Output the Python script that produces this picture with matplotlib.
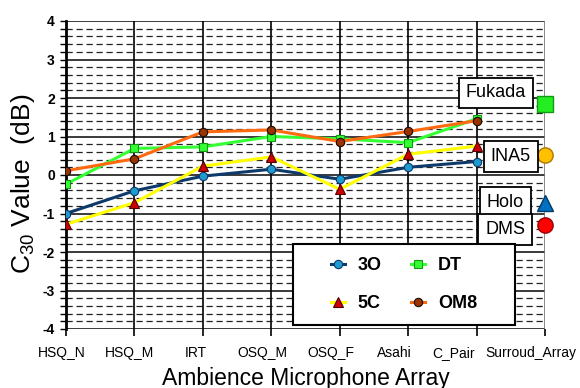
import matplotlib.pyplot as plt
from matplotlib.patches import Rectangle

plt.rcParams['font.family'] = ['Liberation Sans', 'DejaVu Sans']
plt.rcParams['mathtext.default'] = 'regular'

# -----------------------------------------------------------------------------
# data

arrays = ['HSQ_N', 'HSQ_M', 'IRT', 'OSQ_M', 'OSQ_F', 'Asahi', 'C_Pair',
          'Surroud_Array']

c30_3o = [-1.00, -0.41, -0.03, 0.15, -0.11, 0.20, 0.35]
c30_5c = [-1.28, -0.72, 0.23, 0.47, -0.37, 0.54, 0.75]
c30_dt = [-0.24, 0.69, 0.73, 1.00, 0.94, 0.84, 1.46]
c30_om8 = [0.11, 0.42, 1.12, 1.17, 0.87, 1.13, 1.41]

surround_names = ['Fukada', 'INA5', 'Holo', 'DMS']
surround_values = [1.84, 0.52, -0.72, -1.30]

# -----------------------------------------------------------------------------

fig = plt.figure(figsize=(5.8, 3.88), dpi=100)
ax = fig.add_axes([66 / 580, 1 - 329 / 388, 479 / 580, 308 / 388])

x = list(range(len(c30_3o)))

# grid first so the lines sit on top
for v in range(-4, 5):
    ax.axhline(v, color='#3a3a3a', lw=1.4, zorder=1)
    if v < 4:
        for k in range(1, 5):
            ax.axhline(v + k * 0.2, color='#222222', lw=0.9,
                       ls=(0, (5, 3)), zorder=1)
for i in range(1, len(arrays)):
    ax.axvline(i, color='black' if i < 7 else '#777777', lw=1.2, zorder=1.5)

ax.plot(x, c30_3o, color='#0e3a6b', lw=2.2, marker='o', ms=6,
        mfc='#1d9ad0', mec='#0e3a6b', mew=0.8, label='3O', zorder=3)
ax.plot(x, c30_dt, color='#33ff33', lw=2.2, marker='s', ms=6,
        mfc='#33ff33', mec='#119911', mew=0.8, label='DT', zorder=3)
ax.plot(x, c30_5c, color='#ffff00', lw=2.2, marker='^', ms=7,
        mfc='#cc0000', mec='#550000', mew=0.8, label='5C', zorder=3)
ax.plot(x, c30_om8, color='#ff6a10', lw=2.2, marker='o', ms=6,
        mfc='#993300', mec='#1a0a00', mew=0.8, label='OM8', zorder=3)

# surround arrays sit on the last category
xs = len(arrays) - 1
marker_styles = [('s', '#22ee22', '#119911', 11),
                 ('o', '#ffc000', '#aa7700', 11),
                 ('^', '#0070c0', '#003a66', 11),
                 ('o', '#ff0000', '#990000', 11)]
label_pos = [(6.28, 2.13), (6.50, 0.48), (6.42, -0.71), (6.42, -1.41)]
for name, val, (mk, fc, ec, ms), (lx, ly) in zip(
        surround_names, surround_values, marker_styles, label_pos):
    ax.plot([xs], [val], marker=mk, ms=ms, mfc=fc, mec=ec, mew=1,
            ls='none', clip_on=False, zorder=4)
    ax.text(lx, ly, name, ha='center', va='center', fontsize=13, zorder=5,
            bbox=dict(boxstyle='square,pad=0.38', fc='white', ec='black',
                      lw=1.3))

# legend box
ax.add_patch(Rectangle((0.474, 0.013), 0.463, 0.263, transform=ax.transAxes,
                       fc='white', ec='black', lw=1.5, zorder=6))
handles, labels = ax.get_legend_handles_labels()
order = [0, 2, 1, 3]
leg = ax.legend([handles[i] for i in order], [labels[i] for i in order],
                ncol=2, loc='center', bbox_to_anchor=(0.7055, 0.1445),
                frameon=False, handlelength=0.8, handletextpad=0.7,
                columnspacing=1.6, labelspacing=1.15,
                prop={'weight': 'bold', 'size': 13})
leg.set_zorder(7)

ax.set_xlim(0, len(arrays) - 1)
ax.set_ylim(-4, 4)
ax.set_xticks(range(len(arrays)))
ax.set_xticklabels([])
# the category labels sit a little left of their ticks, as in the original
shift_px = [-4, -5, -7, -9, -9, -14, -23, -14]
for i, (name, dx) in enumerate(zip(arrays, shift_px)):
    ax.annotate(name, (i, 0), xycoords=('data', 'axes fraction'),
                xytext=(dx, -17), textcoords='offset pixels',
                ha='center', va='top', fontsize=10, annotation_clip=False)
ax.set_yticks(range(-4, 5))
ax.set_yticklabels([str(v) for v in range(-4, 5)], fontsize=10,
                   fontweight='bold')
ax.set_yticks([v / 5 for v in range(-20, 21) if v % 5], minor=True)
ax.tick_params(axis='x', length=5, width=1.2)
ax.tick_params(axis='y', which='both', length=4, width=1, pad=4)

for s in ['top', 'right', 'bottom']:
    ax.spines[s].set_visible(False)
ax.spines['left'].set_linewidth(2)

fig.text(23 / 580, 1 - 184 / 388, r'C$_{30}$ Value  (dB)', rotation=90,
         ha='center', va='center', fontsize=19)
fig.text(306 / 580, 1 - 385 / 388, 'Ambience Microphone Array',
         ha='center', va='baseline', fontsize=16.5)

fig.savefig('out.png', dpi=100)
